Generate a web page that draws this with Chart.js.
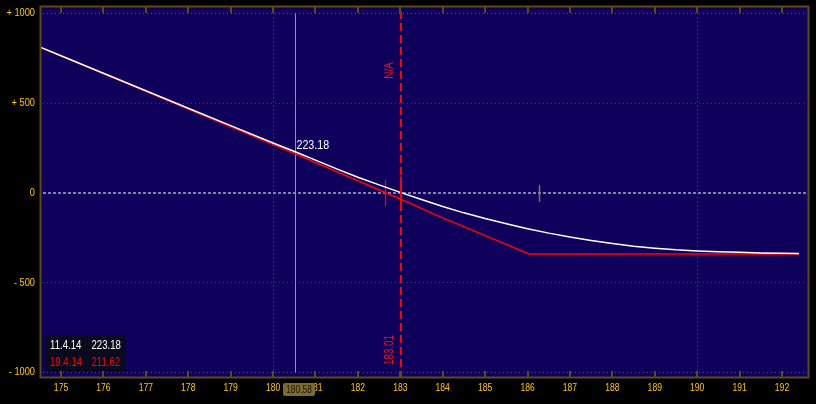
<!DOCTYPE html>
<html>
<head>
<meta charset="utf-8">
<script src="https://cdn.jsdelivr.net/npm/chart.js@4/dist/chart.umd.min.js"></script>
<style>
  html, body { margin: 0; padding: 0; background: #000; }
  #wrap { width: 816px; height: 404px; position: relative; }
</style>
</head>
<body>
<div id="wrap"><canvas id="c" width="816" height="404"></canvas></div>
<script>
// ---- data ----
const whiteLabel = '11.4.14';
const redLabel = '19.4.14';
const whiteX = [174.5, 175, 176, 177, 178, 179, 180, 180.58, 181, 181.5, 182, 182.5, 183, 183.5, 184, 184.5, 185, 185.5, 186, 186.5, 187, 187.5, 188, 188.5, 189, 189.5, 190, 190.5, 191, 191.5, 192, 192.4];
const whiteY = [812, 763, 666, 568, 471, 374, 277, 223.18, 182, 133, 86, 44, 2, -38, -77, -112, -144, -173, -200, -225, -247, -266, -283, -298, -309, -318, -324, -329, -332, -335, -337, -338];
const redX = [174.5, 180.58, 183, 184, 186.04, 192.4];
const redY = [812, 211.62, -35, -140, -341, -341];
const xTicks = [175, 176, 177, 178, 179, 180, 181, 182, 183, 184, 185, 186, 187, 188, 189, 190, 191, 192];
const yTicks = [-1000, -500, 0, 500, 1000];
const yGridOuter = [-1000, 1000];
const yGridInner = [-500, 500];
const xGridDotted = [180, 190];
const cursorX = 180.52;
const cursorLabel = '180.58';
const cursorWhite = '223.18';
const cursorRed = '211.62';
const strikeX = 183.01;
const strikeTop = 'N/A';
const strikeBottom = '183.01';
const markerRedX = 182.64;
const markerBrownX = 186.27;

const FONT = "'Liberation Sans', 'DejaVu Sans', sans-serif";
const BROWN = '#5e4b14';
const NAVY = '#0f005c';
const AXIS = '#ffc800';

const toPts = (xs, ys) => xs.map((x, i) => ({ x: x, y: ys[i] }));

function narrowText(ctx, text, x, y, sx, align) {
  ctx.save();
  ctx.translate(x, y);
  ctx.scale(sx, 1);
  ctx.textAlign = align || 'left';
  ctx.fillText(text, 0, 0);
  ctx.restore();
}

const deco = {
  id: 'deco',
  beforeDraw(chart) {
    const { ctx, chartArea: a } = chart;
    ctx.save();
    ctx.fillStyle = '#000';
    ctx.fillRect(0, 0, chart.width, chart.height);
    ctx.fillStyle = NAVY;
    ctx.fillRect(a.left, a.top, a.right - a.left, a.bottom - a.top);
    ctx.restore();
  },
  beforeDatasetsDraw(chart) {
    const { ctx, chartArea: a, scales: { x, y } } = chart;
    ctx.save();
    ctx.lineWidth = 1;
    ctx.setLineDash([1, 3]);
    ctx.strokeStyle = '#52528a';
    yGridOuter.forEach(v => {
      const py = Math.round(y.getPixelForValue(v)) + 0.5;
      ctx.beginPath(); ctx.moveTo(a.left + 2, py); ctx.lineTo(a.right - 2, py); ctx.stroke();
    });
    xGridDotted.forEach(v => {
      const px = Math.round(x.getPixelForValue(v)) + 0.5;
      ctx.beginPath();
      ctx.moveTo(px, y.getPixelForValue(1000)); ctx.lineTo(px, y.getPixelForValue(-1000)); ctx.stroke();
    });
    ctx.strokeStyle = '#3a3a78';
    yGridInner.forEach(v => {
      const py = Math.round(y.getPixelForValue(v)) + 0.5;
      ctx.beginPath(); ctx.moveTo(a.left + 2, py); ctx.lineTo(a.right - 2, py); ctx.stroke();
    });
    // zero line
    ctx.strokeStyle = '#8480aa';
    ctx.lineWidth = 2;
    ctx.setLineDash([3, 2]);
    const py0 = Math.round(y.getPixelForValue(0));
    ctx.beginPath(); ctx.moveTo(a.left + 2, py0); ctx.lineTo(a.right - 2, py0); ctx.stroke();
    ctx.setLineDash([]);
    // cursor line
    ctx.strokeStyle = '#9c8ca4';
    ctx.lineWidth = 1;
    const pc = Math.round(x.getPixelForValue(cursorX)) + 0.5;
    ctx.beginPath(); ctx.moveTo(pc, y.getPixelForValue(1000)); ctx.lineTo(pc, y.getPixelForValue(-1000)); ctx.stroke();
    // small markers
    ctx.strokeStyle = '#ff0000';
    ctx.lineWidth = 1.3;
    const pm = Math.round(x.getPixelForValue(markerRedX)) + 0.5;
    ctx.beginPath(); ctx.moveTo(pm, y.getPixelForValue(70)); ctx.lineTo(pm, y.getPixelForValue(-75)); ctx.stroke();
    ctx.strokeStyle = '#8a7650';
    ctx.lineWidth = 1.5;
    const pb = Math.round(x.getPixelForValue(markerBrownX)) + 0.5;
    ctx.beginPath(); ctx.moveTo(pb, y.getPixelForValue(42)); ctx.lineTo(pb, y.getPixelForValue(-50)); ctx.stroke();
    ctx.restore();
  },
  afterDatasetsDraw(chart) {
    const { ctx, chartArea: a, scales: { x, y } } = chart;
    ctx.save();
    // strike dashed line
    const ps = Math.round(x.getPixelForValue(strikeX));
    ctx.strokeStyle = '#ff0000';
    ctx.lineWidth = 2;
    ctx.setLineDash([8, 4]);
    ctx.beginPath(); ctx.moveTo(ps, a.top + 4); ctx.lineTo(ps, a.bottom); ctx.stroke();
    ctx.setLineDash([]);
    ctx.beginPath(); ctx.moveTo(ps, y.getPixelForValue(90)); ctx.lineTo(ps, y.getPixelForValue(-85)); ctx.stroke();
    // rotated labels
    ctx.fillStyle = '#ff1010';
    ctx.font = '12px ' + FONT;
    ctx.textBaseline = 'middle';
    ctx.save(); ctx.translate(ps - 11.5, 70.5); ctx.rotate(-Math.PI / 2); narrowText(ctx, strikeTop, 0, 0, 0.82, 'center'); ctx.restore();
    ctx.save(); ctx.translate(ps - 11.5, 350); ctx.rotate(-Math.PI / 2); narrowText(ctx, strikeBottom, 0, 0, 0.82, 'center'); ctx.restore();
    // cursor value label
    const pc = Math.round(x.getPixelForValue(cursorX));
    ctx.fillStyle = '#ffffff';
    ctx.font = '13px ' + FONT;
    narrowText(ctx, cursorWhite, pc + 1.5, y.getPixelForValue(265), 0.82, 'left');
    // legend box
    ctx.fillStyle = '#0a0a1e';
    ctx.beginPath();
    if (ctx.roundRect) ctx.roundRect(45, 335, 81, 37, 2); else ctx.rect(45, 335, 81, 37);
    ctx.fill();
    ctx.font = '13px ' + FONT;
    ctx.fillStyle = '#ffffff';
    narrowText(ctx, whiteLabel, 50, 345.5, 0.74, 'left');
    narrowText(ctx, cursorWhite, 91.5, 345.5, 0.74, 'left');
    ctx.fillStyle = '#ff0000';
    narrowText(ctx, redLabel, 50, 362.5, 0.74, 'left');
    narrowText(ctx, cursorRed, 91.5, 362.5, 0.74, 'left');
    // border
    ctx.strokeStyle = BROWN;
    ctx.lineWidth = 2;
    ctx.strokeRect(a.left - 0.5, a.top - 0.5, a.right - a.left + 1, a.bottom - a.top + 1);
    // tick marks top and bottom
    xTicks.forEach(v => {
      const px = Math.round(x.getPixelForValue(v));
      ctx.beginPath(); ctx.moveTo(px, a.top); ctx.lineTo(px, a.top + 6); ctx.stroke();
      ctx.beginPath(); ctx.moveTo(px, a.bottom - 6); ctx.lineTo(px, a.bottom); ctx.stroke();
    });
    // axis labels
    ctx.fillStyle = AXIS;
    ctx.font = '11px ' + FONT;
    ctx.textBaseline = 'middle';
    xTicks.forEach(v => {
      narrowText(ctx, String(v), x.getPixelForValue(v), a.bottom + 11, 0.78, 'center');
    });
    yTicks.forEach(v => {
      const t = v > 0 ? '+ ' + v : (v < 0 ? '- ' + (-v) : '0');
      narrowText(ctx, t, 35, y.getPixelForValue(v), 0.84, 'right');
    });
    // cursor box on x axis
    ctx.fillStyle = '#7d6a32';
    ctx.beginPath();
    if (ctx.roundRect) ctx.roundRect(pc - 12, a.bottom + 6, 32, 13, 2); else ctx.rect(pc - 12, a.bottom + 6, 32, 13);
    ctx.fill();
    ctx.fillStyle = '#1a1400';
    ctx.font = '11px ' + FONT;
    narrowText(ctx, cursorLabel, pc + 4, a.bottom + 12.5, 0.76, 'center');
    ctx.restore();
  }
};

new Chart(document.getElementById('c'), {
  type: 'line',
  data: {
    datasets: [
      { label: whiteLabel, data: toPts(whiteX, whiteY), borderColor: '#ffffff', borderWidth: 1.5, pointRadius: 0, tension: 0 },
      { label: redLabel, data: toPts(redX, redY), borderColor: '#ff0000', borderWidth: 1.5, pointRadius: 0, tension: 0 }
    ]
  },
  options: {
    responsive: false,
    animation: false,
    events: [],
    layout: { padding: { top: 7, right: 8, left: 41, bottom: 27 } },
    plugins: { legend: { display: false }, tooltip: { enabled: false } },
    scales: {
      x: { type: 'linear', display: false, min: 174.528, max: 192.613 },
      y: { type: 'linear', display: false, min: -1026.5, max: 1034.8 }
    }
  },
  plugins: [deco]
});
</script>
</body>
</html>
